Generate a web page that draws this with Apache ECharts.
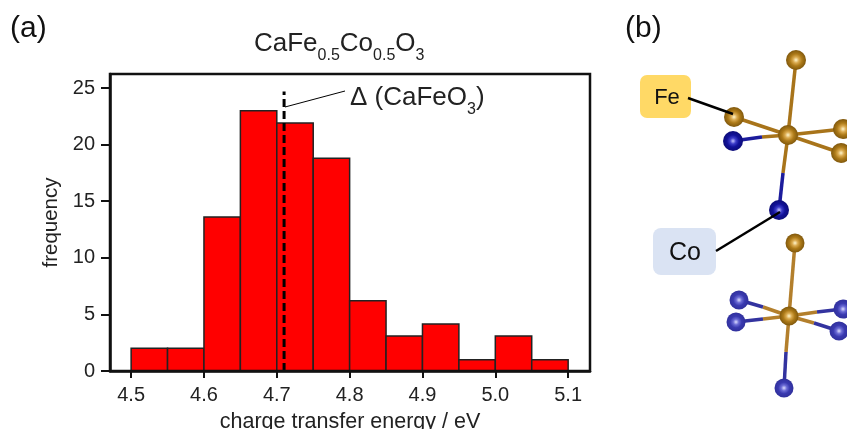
<!DOCTYPE html>
<html><head><meta charset="utf-8">
<style>html,body{margin:0;padding:0;background:#fff}#c{width:847px;height:429px}</style>
<script src="https://cdn.jsdelivr.net/npm/echarts@6/dist/echarts.min.js"></script>
</head><body><div id="c"></div>
<script>
const binStarts = [4.50,4.55,4.60,4.65,4.70,4.75,4.80,4.85,4.90,4.95,5.00,5.05];
const frequencies = [2,2,13.6,23,21.9,18.8,6.2,3.1,4.15,1,3.1,1];
const binWidth = 0.05;
const xTicks = [4.5,4.6,4.7,4.8,4.9,5.0,5.1];
const yTicks = [0,5,10,15,20,25];
const refEnergy = 4.71;
const refTop = 24.7;
const FONT = '"Liberation Sans", Arial, sans-serif';
const brown='#a8741a', blue='#1c1c9c', paleBlue='#33339f', paleBrown='#b37f2c';

function sphere(cx,cy,r,stops){
  return {type:'circle',z:5,shape:{cx,cy,r},style:{fill:{type:'radial',x:0.5,y:0.5,r:0.5,
    colorStops:stops.map((c,i)=>({offset:[0,0.3,0.6,1][i],color:c}))}}};
}
const fe=(x,y,r=10)=>sphere(x,y,r,['#fff6cc','#d9a94e','#ad7a18','#7f570c']);
const co=(x,y,r=10)=>sphere(x,y,r,['#c4c4ff','#3c3cc8','#12129a','#0c0c78']);
const co2=(x,y,r=9.5)=>sphere(x,y,r,['#dcdcff','#6a6ad4','#3a3ab0','#30309c']);
const bond=(x1,y1,x2,y2,c)=>({type:'line',z:3,shape:{x1,y1,x2,y2},style:{stroke:c,lineWidth:3.5}});
const lead=(x1,y1,x2,y2,w=2.5)=>({type:'line',z:6,shape:{x1,y1,x2,y2},style:{stroke:'#000',lineWidth:w}});

const sub={fontSize:16,fontFamily:FONT,verticalAlign:'bottom',lineHeight:16,padding:[0,0,-6,0],fill:'#222'};
const main={fontSize:26,fontFamily:FONT,lineHeight:29,fill:'#222'};

const chart=echarts.init(document.getElementById('c'),null,{renderer:'canvas'});
chart.setOption({
  animation:false,backgroundColor:'#fff',
  grid:{left:110,top:74,width:480,height:297,outerBoundsMode:'none',show:true,borderColor:'#111',borderWidth:2.5,backgroundColor:'transparent',z:4},
  xAxis:{type:'value',min:4.471,max:5.13,name:'charge transfer energy / eV',nameLocation:'middle',nameGap:40,
    nameTextStyle:{fontSize:21.5,fontFamily:FONT,color:'#222'},splitLine:{show:false},
    axisLine:{show:true,lineStyle:{color:'#111',width:2.5}},
    axisTick:{show:true,length:7,lineStyle:{color:'#111',width:2},customValues:xTicks},
    axisLabel:{fontSize:20,fontFamily:FONT,color:'#222',margin:14,customValues:xTicks,formatter:v=>v.toFixed(1)}},
  yAxis:{type:'value',min:0,max:26.24,name:'frequency',nameLocation:'middle',nameGap:44,
    nameTextStyle:{fontSize:20.5,fontFamily:FONT,color:'#222'},splitLine:{show:false},
    axisLine:{show:true,lineStyle:{color:'#111',width:2.5}},
    axisTick:{show:true,length:9,lineStyle:{color:'#111',width:2},customValues:yTicks},
    axisLabel:{fontSize:20,fontFamily:FONT,color:'#222',margin:15,customValues:yTicks}},
  series:[
    {type:'custom',z:2,silent:true,clip:false,
     data:binStarts.map((s,i)=>[s,frequencies[i]]),encode:{x:0,y:1},
     renderItem(params,api){
       const x0=api.value(0),h=api.value(1);
       const a=api.coord([x0,h]),b=api.coord([x0+binWidth,0]);
       return {type:'rect',shape:{x:a[0],y:a[1],width:b[0]-a[0],height:b[1]-a[1]},
         style:{fill:'#ff0000',stroke:'#222',lineWidth:1.5}};
     }},
    {type:'line',z:3,silent:true,symbol:'none',data:[[refEnergy,0],[refEnergy,refTop]],
     lineStyle:{color:'#000',width:3,type:[8,4]}}
  ],
  graphic:[
    {type:'text',left:10,top:14,z:10,style:{text:'(a)',font:'30px '+FONT,fill:'#111'}},
    {type:'text',left:625,top:14,z:10,style:{text:'(b)',font:'30px '+FONT,fill:'#111'}},
    {type:'text',x:254,y:29,z:10,style:{text:'{m|CaFe}{s|0.5}{m|Co}{s|0.5}{m|O}{s|3}',rich:{m:main,s:sub}}},
    {type:'text',x:350,y:83,z:10,style:{text:'{m|Δ (CaFeO}{s|3}{m|)}',rich:{m:main,s:sub}}},
    lead(285,107,345,91,1),
    {type:'rect',z:2,shape:{x:640,y:75,width:51,height:43,r:7},style:{fill:'#FFD966'}},
    {type:'text',z:6,x:667,y:98,style:{text:'Fe',font:'22px '+FONT,fill:'#111',align:'center',verticalAlign:'middle'}},
    {type:'rect',z:2,shape:{x:653,y:228,width:63,height:47,r:8},style:{fill:'#DAE3F3'}},
    {type:'text',z:6,x:685,y:253,style:{text:'Co',font:'25px '+FONT,fill:'#111',align:'center',verticalAlign:'middle'}},
    bond(788,135,796,60,brown),bond(788,135,734,117,brown),bond(788,135,843,129,brown),bond(788,135,841,153,brown),
    bond(788,135,762,137,brown),bond(762,137,733,141,blue),
    bond(788,135,783,173,brown),bond(783,173,779,210,blue),
    fe(796,60),fe(734,117),fe(843,129),fe(841,153),fe(788,135),co(733,141),co(779,210),
    bond(789,316,795,243,paleBrown),
    bond(789,316,763,307,paleBrown),bond(763,307,739,300,paleBlue),
    bond(789,316,763,319,paleBrown),bond(763,319,736,322,paleBlue),
    bond(789,316,817,312,paleBrown),bond(817,312,843,309,paleBlue),
    bond(789,316,814,323,paleBrown),bond(814,323,839,331,paleBlue),
    bond(789,316,786,352,paleBrown),bond(786,352,784,388,paleBlue),
    fe(795,243,9.5),fe(789,316,9.5),co2(739,300),co2(736,322),co2(843,309),co2(839,331),co2(784,388),
    lead(688,98,733,114),lead(716,251,780,212)
  ]
});
</script></body></html>
